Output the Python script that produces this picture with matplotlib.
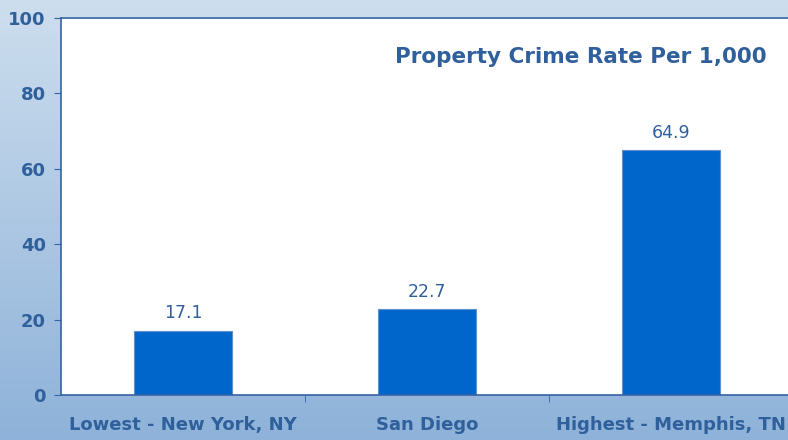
import numpy as np
import matplotlib
matplotlib.use("Agg")
import matplotlib.pyplot as plt

# данные
cities = ["Lowest - New York, NY", "San Diego", "Highest - Memphis, TN"]
rates = [17.1, 22.7, 64.9]
y_ticks = [0, 20, 40, 60, 80, 100]
title = "Property Crime Rate Per 1,000"

txt_color = "#30609c"
bar_color = "#0066cc"
spine_color = "#3464a4"

fig = plt.figure(figsize=(7.88, 4.4), dpi=100)

# фон - вертикальный градиент
bg = fig.add_axes([0, 0, 1, 1], zorder=0)
top = np.array([0xcd, 0xde, 0xee]) / 255
bot = np.array([0x8e, 0xb2, 0xd9]) / 255
t = np.linspace(0, 1, 256)[:, None]
grad = top * (1 - t) + bot * t
bg.imshow(grad[:, None, :], aspect="auto", extent=[0, 1, 0, 1])
bg.axis("off")

ax = fig.add_axes([61 / 788, 1 - 395 / 440, 732 / 788, 377 / 440], zorder=1)
ax.set_facecolor("white")
x = np.arange(len(cities))
bars = ax.bar(x, rates, width=0.4, color=bar_color, edgecolor="#5c8fcc", linewidth=0.8)

for xi, v in zip(x, rates):
    ax.annotate("{:.1f}".format(v), (xi, v), xytext=(0, 6), textcoords="offset points",
                ha="center", va="bottom", fontsize=12.5, color=txt_color)

ax.set_xlim(-0.5, 2.5)
ax.set_ylim(0, 100)
ax.set_yticks(y_ticks)
ax.set_yticklabels([str(v) for v in y_ticks], fontsize=13, fontweight="bold", color=txt_color)
ax.set_xticks(x)
ax.set_xticklabels(cities, fontsize=13, fontweight="bold", color=txt_color)
ax.set_xticks([0.5, 1.5], minor=True)
ax.tick_params(axis="x", which="major", length=0, pad=15)
ax.tick_params(axis="x", which="minor", length=5, color=spine_color, direction="out")
ax.tick_params(axis="y", length=5, color=spine_color, pad=6, direction="out")
for s in ax.spines.values():
    s.set_color(spine_color)
    s.set_linewidth(1.2)

fig.text(581 / 788, 1 - 57 / 440, title, ha="center", va="center",
         fontsize=15.5, fontweight="bold", color=txt_color, zorder=3)

fig.savefig("out.png", dpi=100)
